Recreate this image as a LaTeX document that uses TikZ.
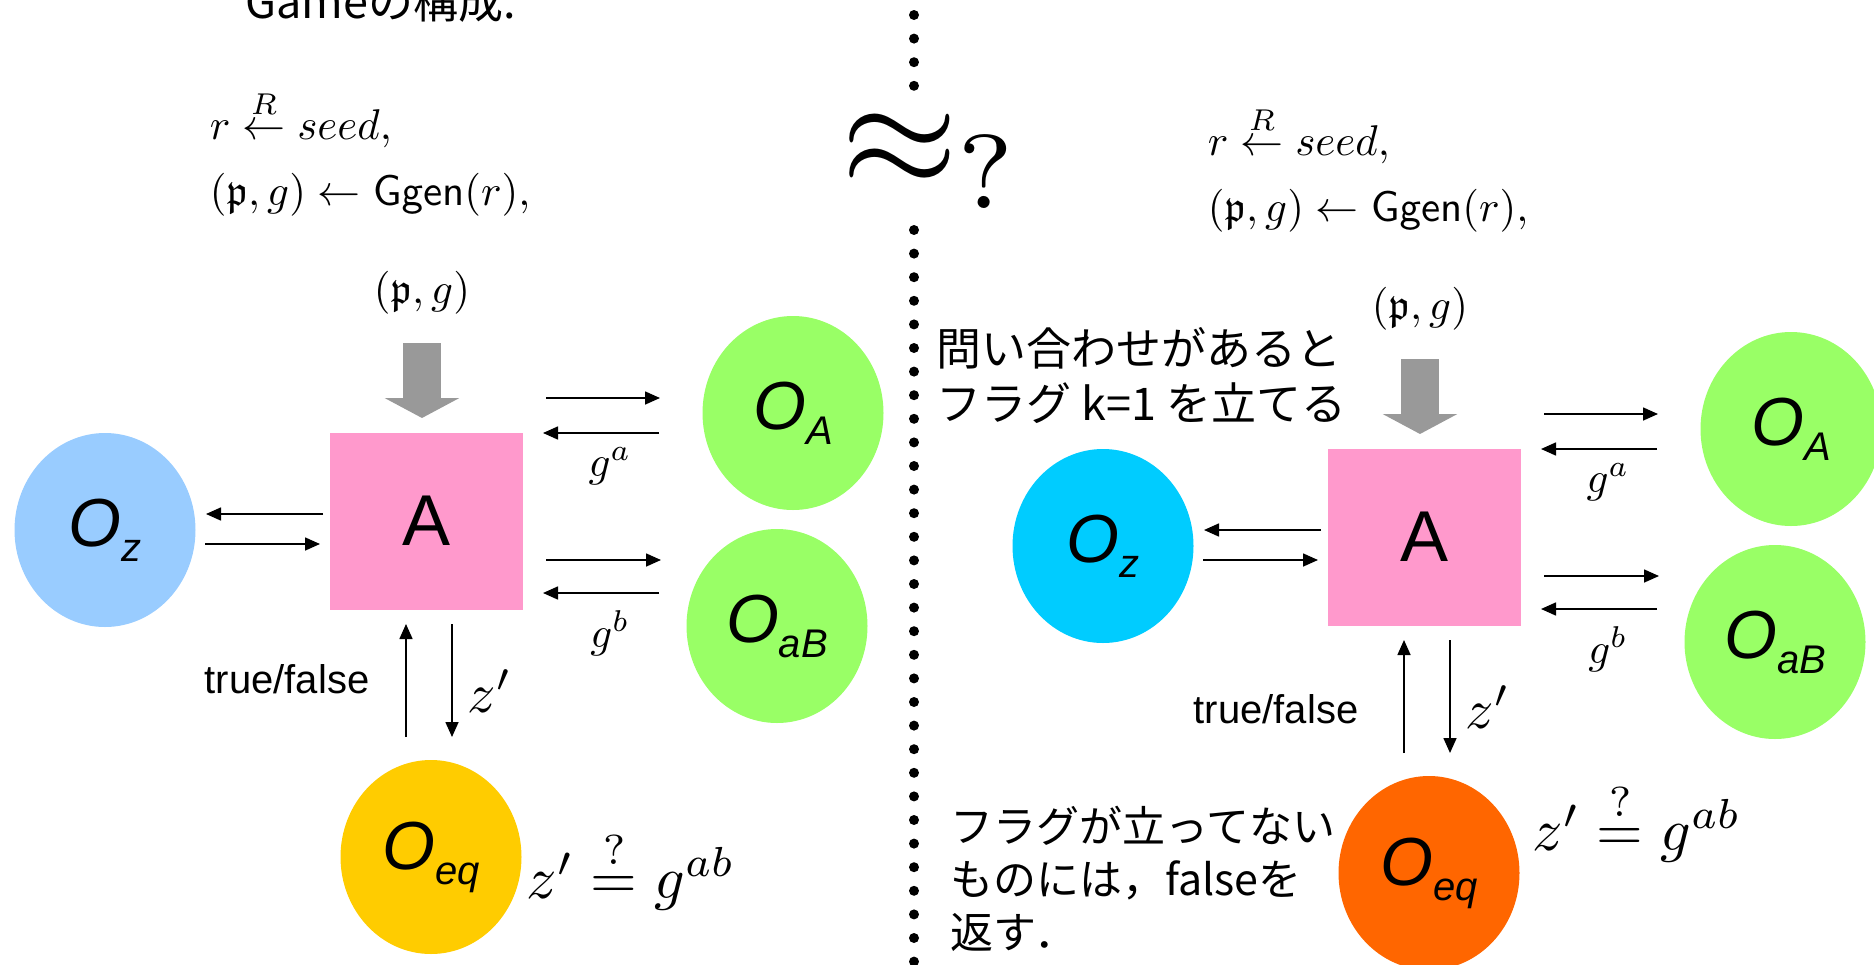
\RequirePackage{fix-cm}
\documentclass[tikz,border=0pt]{standalone}
\usepackage{eufrak}
\usepackage[no-math]{fontspec}
\newfontfamily\sansf{Liberation Sans}
\newfontfamily\jp{Noto Sans CJK JP}
\usetikzlibrary{shapes.geometric,arrows.meta}
\definecolor{pinkA}{HTML}{FF99CC}
\definecolor{blueL}{HTML}{99CCFF}
\definecolor{cyanR}{HTML}{00CCFF}
\definecolor{greenO}{HTML}{99FF66}
\definecolor{yellowE}{HTML}{FFCC00}
\definecolor{orangeE}{HTML}{FF6600}
\definecolor{grayA}{HTML}{999999}
\tikzset{
 arr/.style={line width=1.6pt, -{Triangle[length=15pt,width=13pt]}},
 bigarr/.style={line width=38pt, draw=grayA, -{Triangle[length=20pt,width=74pt]}},
 orc/.style={ellipse, minimum width=181pt, minimum height=194pt, inner sep=0pt, font=\fontsize{68}{68}\selectfont\sansf\itshape},
 abox/.style={rectangle, fill=pinkA, minimum width=193pt, minimum height=177pt, inner sep=0pt, font=\fontsize{72}{72}\selectfont\sansf},
 mtxt/.style={inner sep=0pt, font=\normalsize, scale=4.3},
 zlbl/.style={inner sep=0pt, font=\normalsize, scale=5.6},
 eqlbl/.style={inner sep=0pt, font=\normalsize, scale=6.0},
 tf/.style={inner sep=0pt, font=\fontsize{40}{48}\selectfont\sansf},
 jtxt/.style={inner sep=0pt, align=left, font=\fontsize{45}{55}\selectfont\jp},
 dotline/.style={line width=10pt, line cap=round, dash pattern=on 0pt off 23.6pt},
}
\newcommand\Olab[1]{O\raisebox{-15pt}{\fontsize{40}{40}\selectfont #1}}
\newcommand\panel[3]{%
 \node[mtxt, anchor=base west] (#1seed) at (209,139) {$r \stackrel{R}{\leftarrow} seed,$};
 \node[mtxt, anchor=base west] (#1gen) at (209,205) {$(\mathfrak{p}, g) \leftarrow \mathsf{Ggen}(r),$};
 \node[mtxt] (#1pg) at (422,293) {$(\mathfrak{p}, g)$};
 \node[abox] (#1A) at (426.5,521) {A};
 \node[orc, fill=#2] (#1Oz) at (105,530) {\Olab{z}};
 \node[orc, fill=greenO] (#1OA) at (793,413) {\Olab{A}};
 \node[orc, fill=greenO] (#1OaB) at (777,626) {\Olab{aB}};
 \node[orc, fill=#3] (#1Oeq) at (431,857) {\Olab{eq}};
 \node[mtxt] (#1ga) at (610,466) {$g^a$};
 \node[mtxt] (#1gb) at (610,633) {$g^b$};
 \node[zlbl] (#1zp) at (490,691) {$z'$};
 \coordinate (#1gs) at (422,343);
 \coordinate (#1ge) at (422,418);
 \draw[bigarr] (#1gs) -- (#1ge);
 \coordinate (#1zA1) at (323,514); \coordinate (#1zA2) at (206,514);
 \coordinate (#1zA3) at (205,544); \coordinate (#1zA4) at (320,544);
 \draw[arr] (#1zA1) -- (#1zA2);
 \draw[arr] (#1zA3) -- (#1zA4);
 \coordinate (#1AA1) at (546,398); \coordinate (#1AA2) at (660,398);
 \coordinate (#1AA3) at (659,433); \coordinate (#1AA4) at (543,433);
 \draw[arr] (#1AA1) -- (#1AA2);
 \draw[arr] (#1AA3) -- (#1AA4);
 \coordinate (#1AB1) at (546,560); \coordinate (#1AB2) at (661,560);
 \coordinate (#1AB3) at (659,593); \coordinate (#1AB4) at (543,593);
 \draw[arr] (#1AB1) -- (#1AB2);
 \draw[arr] (#1AB3) -- (#1AB4);
 \coordinate (#1V1) at (406,737); \coordinate (#1V2) at (406,624);
 \coordinate (#1V3) at (452,624); \coordinate (#1V4) at (452,737);
 \draw[arr] (#1V1) -- (#1V2);
 \draw[arr] (#1V3) -- (#1V4);
}
\begin{document}
\begin{tikzpicture}[x=1pt,y=-1pt]
\useasboundingbox (0,0) rectangle (1874,964);
\clip (0,0) rectangle (1874,964);
\panel{L}{blueL}{yellowE}
\begin{scope}[shift={(998,16)}]
\panel{R}{cyanR}{orangeE}
\end{scope}
\node[tf] (Ltf) at (287,679) {true/false};
\node[tf] (Rtf) at (1276,709) {true/false};
\node[eqlbl] (Leq) at (631,870) {$z' \stackrel{?}{=} g^{ab}$};
\node[eqlbl] (Req) at (1637,822) {$z' \stackrel{?}{=} g^{ab}$};
\node[inner sep=0pt, anchor=base west, font=\fontsize{45}{54}\selectfont\jp] (game) at (245,18) {Gameの構成.};
\node[jtxt, anchor=north west] (note1) at (936,327) {問い合わせがあると\\フラグ k=1 を立てる};
\node[jtxt, anchor=north west, font=\fontsize{43}{53}\selectfont\jp] (note2) at (950,806) {フラグが立ってない\\ものには，falseを\\返す．};
\node[inner sep=0pt, anchor=base west, font=\normalsize, scale=15] (approx) at (838,186) {$\approx_?$};
\draw[dotline] (914,15) -- (914,92);
\draw[dotline] (914,230) -- (914,964);
\end{tikzpicture}
\end{document}
